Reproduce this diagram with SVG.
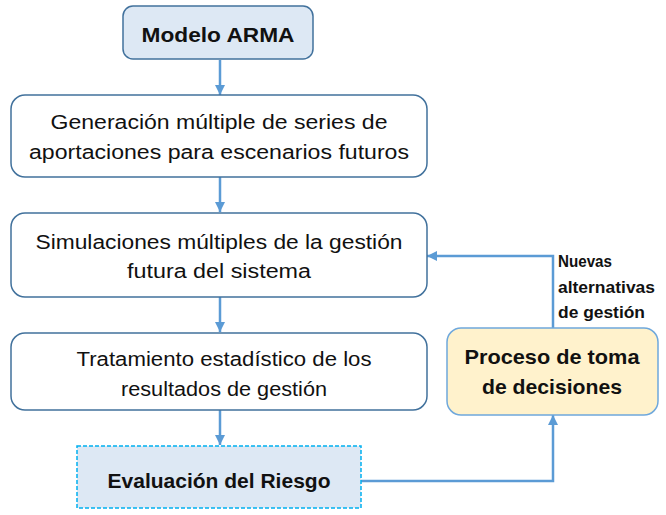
<svg xmlns="http://www.w3.org/2000/svg" width="666" height="515" viewBox="0 0 666 515">
<defs>
<style>
.box{fill:#ffffff;stroke:#41719c;stroke-width:1.5}
.t{font-family:"Liberation Sans","Noto Sans",sans-serif;font-size:20px;fill:#111;text-anchor:middle}
.b{font-family:"Liberation Sans","Noto Sans",sans-serif;font-weight:bold;fill:#111}
.c{fill:none;stroke:#5b9bd5;stroke-width:2.5}
</style>
<marker id="ah" viewBox="0 0 10 10" refX="10" refY="5" markerWidth="4" markerHeight="4" orient="auto" markerUnits="strokeWidth">
<path d="M0,0 L10,5 L0,10 Z" fill="#5b9bd5"/>
</marker>
</defs>
<rect width="666" height="515" fill="#ffffff"/>
<g id="connectors">
<line class="c" x1="220" y1="60" x2="220" y2="95" marker-end="url(#ah)"/>
<line class="c" x1="220" y1="177" x2="220" y2="212" marker-end="url(#ah)"/>
<line class="c" x1="220" y1="297" x2="220" y2="332" marker-end="url(#ah)"/>
<line class="c" x1="220" y1="410" x2="220" y2="445" marker-end="url(#ah)"/>
<polyline class="c" points="361,481 553,481 553,415" marker-end="url(#ah)"/>
<polyline class="c" points="553,328 553,256 427,256" marker-end="url(#ah)"/>
<g class="b" font-size="17">
<text x="558" y="267" textLength="54" lengthAdjust="spacingAndGlyphs">Nuevas</text>
<text x="558" y="293" textLength="97" lengthAdjust="spacingAndGlyphs">alternativas</text>
<text x="558" y="318" textLength="87" lengthAdjust="spacingAndGlyphs">de gestión</text>
</g>
</g>
<g id="modelo">
<rect x="123" y="6" width="190" height="53" rx="10" fill="#dde8f4" stroke="#41719c" stroke-width="1.5"/>
<text class="b" x="218" y="42" font-size="21" text-anchor="middle" textLength="153" lengthAdjust="spacingAndGlyphs">Modelo ARMA</text>
</g>
<g id="generacion">
<rect class="box" x="11" y="95" width="416" height="82" rx="14"/>
<text class="t" x="219" y="129" textLength="337" lengthAdjust="spacingAndGlyphs">Generación múltiple de series de</text>
<text class="t" x="219" y="159" textLength="380" lengthAdjust="spacingAndGlyphs">aportaciones para escenarios futuros</text>
</g>
<g id="simulaciones">
<rect class="box" x="11" y="213" width="416" height="84" rx="14"/>
<text class="t" x="219" y="249" textLength="367" lengthAdjust="spacingAndGlyphs">Simulaciones múltiples de la gestión</text>
<text class="t" x="219" y="278" textLength="184" lengthAdjust="spacingAndGlyphs">futura del sistema</text>
</g>
<g id="tratamiento">
<rect class="box" x="11" y="333" width="416" height="77" rx="14"/>
<text class="t" x="224" y="366" textLength="295" lengthAdjust="spacingAndGlyphs">Tratamiento estadístico de los</text>
<text class="t" x="224" y="396" textLength="206" lengthAdjust="spacingAndGlyphs">resultados de gestión</text>
</g>
<g id="evaluacion">
<rect x="77" y="446" width="284" height="62" fill="#dde8f4" stroke="#00b0f0" stroke-width="1.5" stroke-dasharray="4,2"/>
<text class="b" x="219" y="488" font-size="21" text-anchor="middle" textLength="223" lengthAdjust="spacingAndGlyphs">Evaluación del Riesgo</text>
</g>
<g id="proceso">
<rect x="447" y="328" width="211" height="87" rx="14" fill="#fff2cc" stroke="#6fa8dc" stroke-width="1.5"/>
<text class="b" x="552" y="364" font-size="21" text-anchor="middle" textLength="175" lengthAdjust="spacingAndGlyphs">Proceso de toma</text>
<text class="b" x="552" y="394" font-size="21" text-anchor="middle" textLength="140" lengthAdjust="spacingAndGlyphs">de decisiones</text>
</g>
</svg>
